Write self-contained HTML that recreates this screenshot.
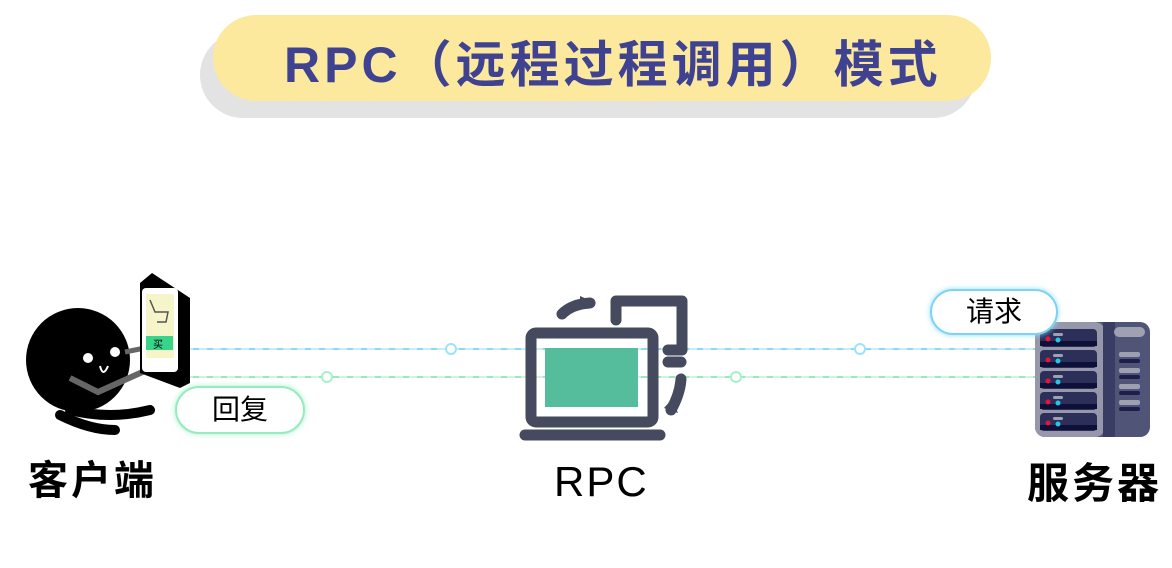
<!DOCTYPE html>
<html><head><meta charset="utf-8"><style>
body{margin:0;width:1172px;height:568px;background:#fff;overflow:hidden;position:relative;font-family:"Liberation Sans","Noto Sans CJK SC",sans-serif}
.a{position:absolute}
</style></head><body>
<div class="a" style="left:200px;top:32px;width:776px;height:86px;border-radius:43px;background:#e3e3e3"></div>
<div class="a" style="left:213px;top:15px;width:778px;height:86px;border-radius:43px;background:#fce99e"></div>
<div class="a" style="left:284px;top:25px;font-size:50px;color:#3f4291;white-space:nowrap;letter-spacing:4px;font-weight:bold">RPC（远程过程调用）模式</div>

<svg class="a" style="left:0;top:0" width="1172" height="568">
<defs><filter id="g" x="-5%" y="-200%" width="110%" height="500%"><feGaussianBlur stdDeviation="2"/></filter></defs>
<line x1="185" y1="349" x2="1040" y2="349" stroke="#9be4f7" stroke-width="6" filter="url(#g)"/>
<line x1="185" y1="349" x2="1040" y2="349" stroke="#8fd8f0" stroke-width="2"/>
<line x1="185" y1="349" x2="1040" y2="349" stroke="#fff" stroke-width="1" stroke-dasharray="8 6"/>
<line x1="185" y1="377" x2="1040" y2="377" stroke="#a6f2c8" stroke-width="6" filter="url(#g)"/>
<line x1="185" y1="377" x2="1040" y2="377" stroke="#9ce8bd" stroke-width="2"/>
<line x1="185" y1="377" x2="1040" y2="377" stroke="#fff" stroke-width="1" stroke-dasharray="8 6"/>
<circle cx="451" cy="349" r="5" fill="#fff" stroke="#9be4f7" stroke-width="2"/>
<circle cx="860" cy="349" r="5" fill="#fff" stroke="#9be4f7" stroke-width="2"/>
<circle cx="327" cy="377" r="5" fill="#fff" stroke="#a6f2c8" stroke-width="2"/>
<circle cx="736" cy="377" r="5" fill="#fff" stroke="#a6f2c8" stroke-width="2"/>

<!-- client -->
<path d="M70 410 Q110 420 150 410" stroke="#000" stroke-width="10" fill="none" stroke-linecap="round"/>
<path d="M60 415 Q90 430 115 430" stroke="#000" stroke-width="10" fill="none" stroke-linecap="round"/>
<circle cx="78" cy="360" r="52" fill="#000"/>
<line x1="125" y1="352" x2="145" y2="348" stroke="#666" stroke-width="5"/>
<polyline points="70,378 98,392 158,365" stroke="#666" stroke-width="6" fill="none"/>
<circle cx="88" cy="358" r="5" fill="#fff"/><circle cx="115" cy="352" r="5" fill="#fff"/>
<path d="M100 366 Q103 378 108 366" stroke="#fff" stroke-width="2" fill="none"/>
<polygon points="140,283 152,273 190,298 190,383 180,388 140,373" fill="#000"/>
<rect x="142" y="288" width="36" height="84" rx="4" fill="#fff"/>
<rect x="146" y="294" width="28" height="64" fill="#f6f5c9"/>
<rect x="146" y="336" width="27" height="14" fill="#37d48a"/>
<text x="153" y="348" font-size="10">买</text>
<path d="M150 300 L155 312 L168 312 L166 322 L157 322" stroke="#555" fill="none" stroke-width="1.5"/>

<!-- laptop -->
<g stroke="#454a5e" stroke-width="11" fill="none" stroke-linecap="round" stroke-linejoin="round">
<rect x="531" y="333" width="122" height="89" rx="5"/>
<line x1="525" y1="435" x2="660" y2="435"/>
<path d="M616 320 V301 H682 V350 H668"/>
<line x1="668" y1="362" x2="681" y2="362"/>
<path d="M562 314 Q572 304 590 303"/>
<path d="M681 379 Q680 394 671 410"/>
</g>
<polygon points="580,296 596,303 580,310" fill="#454a5e"/>
<polygon points="664,408 678,413 672,399" fill="#454a5e"/>
<rect x="545" y="348" width="93" height="59" fill="#55bd9c"/>

<!-- server -->
<rect x="1035" y="322" width="115" height="115" rx="10" fill="#505577"/>
<rect x="1035" y="322" width="70" height="115" rx="10" fill="#9797ac"/>
<rect x="1103" y="322" width="12" height="115" fill="#3a3d63"/>
<rect x="1114" y="327" width="31" height="10" rx="5" fill="#a0a0b3"/>
<g fill="#1d1f4a">
<rect x="1119" y="352" width="21" height="5" rx="2" fill="#9f9fb3"/><rect x="1119" y="359" width="21" height="4" rx="2"/>
<rect x="1119" y="368" width="21" height="5" rx="2" fill="#9f9fb3"/><rect x="1119" y="375" width="21" height="4" rx="2"/>
<rect x="1119" y="384" width="21" height="5" rx="2" fill="#9f9fb3"/><rect x="1119" y="391" width="21" height="4" rx="2"/>
<rect x="1119" y="400" width="21" height="5" rx="2" fill="#9f9fb3"/><rect x="1119" y="407" width="21" height="4" rx="2"/>
</g>
<g>
<rect x="1040" y="329" width="57" height="18" rx="4" fill="#2c2f58"/><rect x="1040" y="341" width="57" height="5" fill="#0e1038"/>
<rect x="1040" y="350" width="57" height="18" rx="4" fill="#2c2f58"/><rect x="1040" y="362" width="57" height="5" fill="#0e1038"/>
<rect x="1040" y="371" width="57" height="18" rx="4" fill="#2c2f58"/><rect x="1040" y="383" width="57" height="5" fill="#0e1038"/>
<rect x="1040" y="392" width="57" height="18" rx="4" fill="#2c2f58"/><rect x="1040" y="404" width="57" height="5" fill="#0e1038"/>
<rect x="1040" y="413" width="57" height="18" rx="4" fill="#2c2f58"/><rect x="1040" y="425" width="57" height="5" fill="#0e1038"/>
</g>
<g fill="#e8123c"><circle cx="1048" cy="339" r="2.5"/><circle cx="1048" cy="360" r="2.5"/><circle cx="1048" cy="381" r="2.5"/><circle cx="1048" cy="402" r="2.5"/><circle cx="1048" cy="423" r="2.5"/></g>
<g fill="#22c6e6"><circle cx="1058" cy="340" r="2.5"/><circle cx="1058" cy="361" r="2.5"/><circle cx="1058" cy="382" r="2.5"/><circle cx="1058" cy="403" r="2.5"/><circle cx="1058" cy="424" r="2.5"/></g>
<g fill="#a0a0b3"><rect x="1053" y="333" width="10" height="3" rx="1.5"/><rect x="1053" y="354" width="10" height="3" rx="1.5"/><rect x="1053" y="375" width="10" height="3" rx="1.5"/><rect x="1053" y="396" width="10" height="3" rx="1.5"/><rect x="1053" y="417" width="10" height="3" rx="1.5"/></g>
</svg>

<div class="a" style="left:930px;top:289px;width:128px;height:46px;border-radius:23px;background:#fff;border:2px solid #7dd3f5;box-shadow:0 0 6px #8fe0fa;box-sizing:border-box;font-size:28px;line-height:42px;text-align:center">请求</div>
<div class="a" style="left:175px;top:386px;width:130px;height:48px;border-radius:24px;background:#fff;border:2px solid #98ebc0;box-shadow:0 0 6px #a6f2c8;box-sizing:border-box;font-size:28px;line-height:44px;text-align:center">回复</div>

<div class="a" style="left:28px;top:448px;font-size:40px;font-weight:bold;letter-spacing:3px">客户端</div>
<div class="a" style="left:554px;top:458px;font-size:42px;letter-spacing:2px">RPC</div>
<div class="a" style="left:1027px;top:450px;font-size:42px;font-weight:bold;letter-spacing:3px">服务器</div>
</body></html>
